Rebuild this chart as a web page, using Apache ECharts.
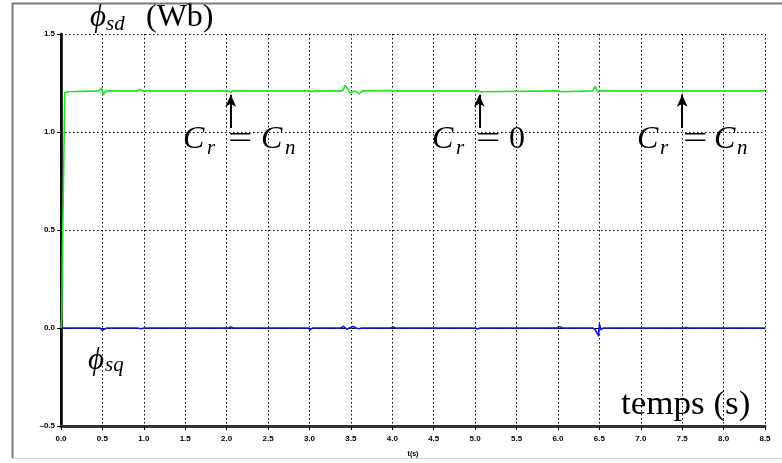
<!DOCTYPE html>
<html><head><meta charset="utf-8">
<script src="https://cdn.jsdelivr.net/npm/echarts@6/dist/echarts.min.js"></script>
<style>html,body{margin:0;padding:0;background:#fff}#c{width:782px;height:463px}</style>
</head><body><div id="c"></div>
<script>
// phi_sd (green) samples: time (s) and flux (Wb)
const sdTime  = [0, 0.008, 0.012, 0.018, 0.022, 0.028, 0.035, 0.045, 0.08, 0.46, 0.49, 0.51, 0.53, 0.56, 0.92, 0.95, 0.98, 2.02, 2.05, 2.08, 3.0, 3.03, 3.06, 3.4, 3.43, 3.46, 3.49, 3.55, 3.6, 3.64, 4.0, 4.03, 5.03, 5.06, 6.0, 6.03, 6.42, 6.45, 6.48, 6.52, 8.5];
const sdValue = [0, 0.05, 0.19, 0.43, 0.44, 0.67, 0.67, 1.2, 1.205, 1.21, 1.225, 1.19, 1.205, 1.21, 1.21, 1.218, 1.21, 1.21, 1.202, 1.21, 1.21, 1.205, 1.21, 1.21, 1.238, 1.222, 1.198, 1.21, 1.195, 1.21, 1.212, 1.21, 1.21, 1.205, 1.21, 1.205, 1.21, 1.232, 1.205, 1.21, 1.21];
// phi_sq (blue) samples
const sqTime  = [0, 0.42, 0.44, 0.47, 0.5, 0.53, 0.56, 0.92, 0.94, 0.97, 1.0, 2.02, 2.05, 2.08, 2.98, 3.01, 3.04, 3.38, 3.41, 3.45, 3.48, 3.53, 3.56, 3.6, 3.63, 3.98, 4.01, 4.04, 5.0, 5.03, 5.06, 5.98, 6.02, 6.06, 6.42, 6.45, 6.47, 6.49, 6.5, 6.52, 6.55, 7.52, 7.55, 7.58, 8.5];
const sqValue = [0, 0, -0.006, 0, -0.012, -0.004, 0, 0, 0.007, -0.004, 0, 0, 0.005, 0, 0, -0.008, 0, 0, 0.008, -0.006, 0, 0.008, 0, -0.004, 0, 0, 0.005, 0, 0, -0.005, 0, 0, 0.007, 0, 0, -0.008, -0.004, -0.04, 0.02, -0.008, 0, 0, 0.003, 0, 0];
// load-change arrows (time, from value, to value)
const arrowTimes = [2.05, 5.05, 7.5];
const arrowFrom = 1.02;
const arrowTo = 1.19;
// axes
const xMin = 0, xMax = 8.5, xStep = 0.5;
const yMin = -0.5, yMax = 1.5, yStep = 0.5;
const xAxisName = 't(s)';

const chart = echarts.init(document.getElementById('c'), null, {renderer: 'canvas'});
const pair = (t, v) => t.map((x, i) => [x, v[i]]);
const serif = '"Liberation Serif", "DejaVu Serif", serif';
const tickFont = {fontFamily: '"Liberation Sans", Arial, sans-serif', fontWeight: 'bold', fontSize: 8, color: '#000'};
const dotted = {color: '#000', width: 1, type: [1.5, 2.5]};

function txt(x, y, text, size, italic, sx) {
  return {type: 'text', x: x, y: y, z: 100, scaleX: sx || 1, style: {text: text,
    font: (italic ? 'italic ' : '') + size + 'px ' + serif, fill: '#000',
    align: 'left', verticalAlign: 'middle'}};
}
// baseline -> middle offset
const mid = (base, size) => base - 0.34 * size;

const graphics = [
  {type: 'line', shape: {x1: 12, y1: 3.5, x2: 782, y2: 3.5}, style: {stroke: '#7a7a7a', lineWidth: 2}},
  {type: 'line', shape: {x1: 12.5, y1: 3, x2: 12.5, y2: 458}, style: {stroke: '#7a7a7a', lineWidth: 2}},
  {type: 'line', shape: {x1: 12, y1: 458.5, x2: 782, y2: 458.5}, style: {stroke: '#d8d8d8', lineWidth: 1}},
  txt(90, mid(28, 31), '\u03D5', 31, true),
  txt(106, mid(32, 21), 'sd', 21, true),
  txt(146, mid(28, 32), '(Wb)', 32, false),
  // C_r = C_n (1)
  txt(183, mid(150, 32), 'C', 32, true),
  txt(207, mid(156, 21), 'r', 21, true),
  txt(228, mid(150, 32), '=', 32, false, 1.35),
  txt(261, mid(150, 32), 'C', 32, true),
  txt(285, mid(156, 21), 'n', 21, true),
  // C_r = 0
  txt(432, mid(150, 32), 'C', 32, true),
  txt(456, mid(156, 21), 'r', 21, true),
  txt(476, mid(150, 32), '=', 32, false, 1.35),
  txt(509, mid(150, 32), '0', 32, false),
  // C_r = C_n (2)
  txt(637, mid(150, 32), 'C', 32, true),
  txt(660, mid(156, 21), 'r', 21, true),
  txt(683, mid(150, 32), '=', 32, false, 1.35),
  txt(714, mid(150, 32), 'C', 32, true),
  txt(737, mid(156, 21), 'n', 21, true),
  // phi_sq
  txt(88, mid(371, 31), '\u03D5', 31, true),
  txt(105, mid(373, 21), 'sq', 21, true),
  // temps (s)
  txt(621, mid(417, 34), 'temps (s)', 34, false, 1.03)
];

const option = {
  animation: false,
  backgroundColor: '#fff',
  grid: {left: 61, right: 17, top: 34, bottom: 37, containLabel: false},
  xAxis: [{
    type: 'value', min: xMin, max: xMax, interval: xStep, position: 'bottom',
    name: xAxisName, nameLocation: 'middle', nameGap: 25,
    nameTextStyle: {fontFamily: '"Liberation Sans", Arial, sans-serif', fontWeight: 'bold', fontSize: 7, color: '#000'},
    axisLine: {onZero: false, lineStyle: {color: '#333', width: 3}},
    axisTick: {show: true, length: 4, lineStyle: {color: '#000', width: 1}},
    axisLabel: Object.assign({margin: 9, formatter: v => v.toFixed(1)}, tickFont),
    splitLine: {show: true, lineStyle: dotted}
  }, {
    type: 'value', min: xMin, max: xMax, interval: xStep, position: 'top',
    axisLine: {show: true, lineStyle: {color: '#000', width: 1, type: [2, 1]}},
    axisTick: {show: false}, axisLabel: {show: false}, splitLine: {show: false}
  }],
  yAxis: [{
    type: 'value', min: yMin, max: yMax, interval: yStep, position: 'left',
    axisLine: {show: true, onZero: false, lineStyle: {color: '#333', width: 3}},
    axisTick: {show: true, length: 4, lineStyle: {color: '#000', width: 1}},
    axisLabel: Object.assign({margin: 6, formatter: v => v.toFixed(1).replace('-', '\u2013')}, tickFont),
    splitLine: {show: true, lineStyle: dotted}
  }, {
    type: 'value', min: yMin, max: yMax, interval: yStep, position: 'right',
    axisLine: {show: true, lineStyle: {color: '#000', width: 1.5}},
    axisTick: {show: false}, axisLabel: {show: false}, splitLine: {show: false}
  }],
  series: [{
    type: 'line', name: 'phi_sd', data: pair(sdTime, sdValue), showSymbol: false,
    lineStyle: {color: '#1ee61e', width: 1.6, join: 'round'}, z: 5,
    markLine: {
      silent: true, symbol: ['none', 'arrow'], symbolSize: [8, 12],
      lineStyle: {color: '#000', width: 2, type: 'solid'}, label: {show: false},
      data: arrowTimes.map(t => [{coord: [t, arrowFrom]}, {coord: [t, arrowTo]}])
    }
  }, {
    type: 'line', name: 'phi_sq', data: pair(sqTime, sqValue), showSymbol: false,
    lineStyle: {color: '#1515e6', width: 1.6, join: 'round'}, z: 4
  }],
  graphic: graphics
};
chart.setOption(option);
</script></body></html>
